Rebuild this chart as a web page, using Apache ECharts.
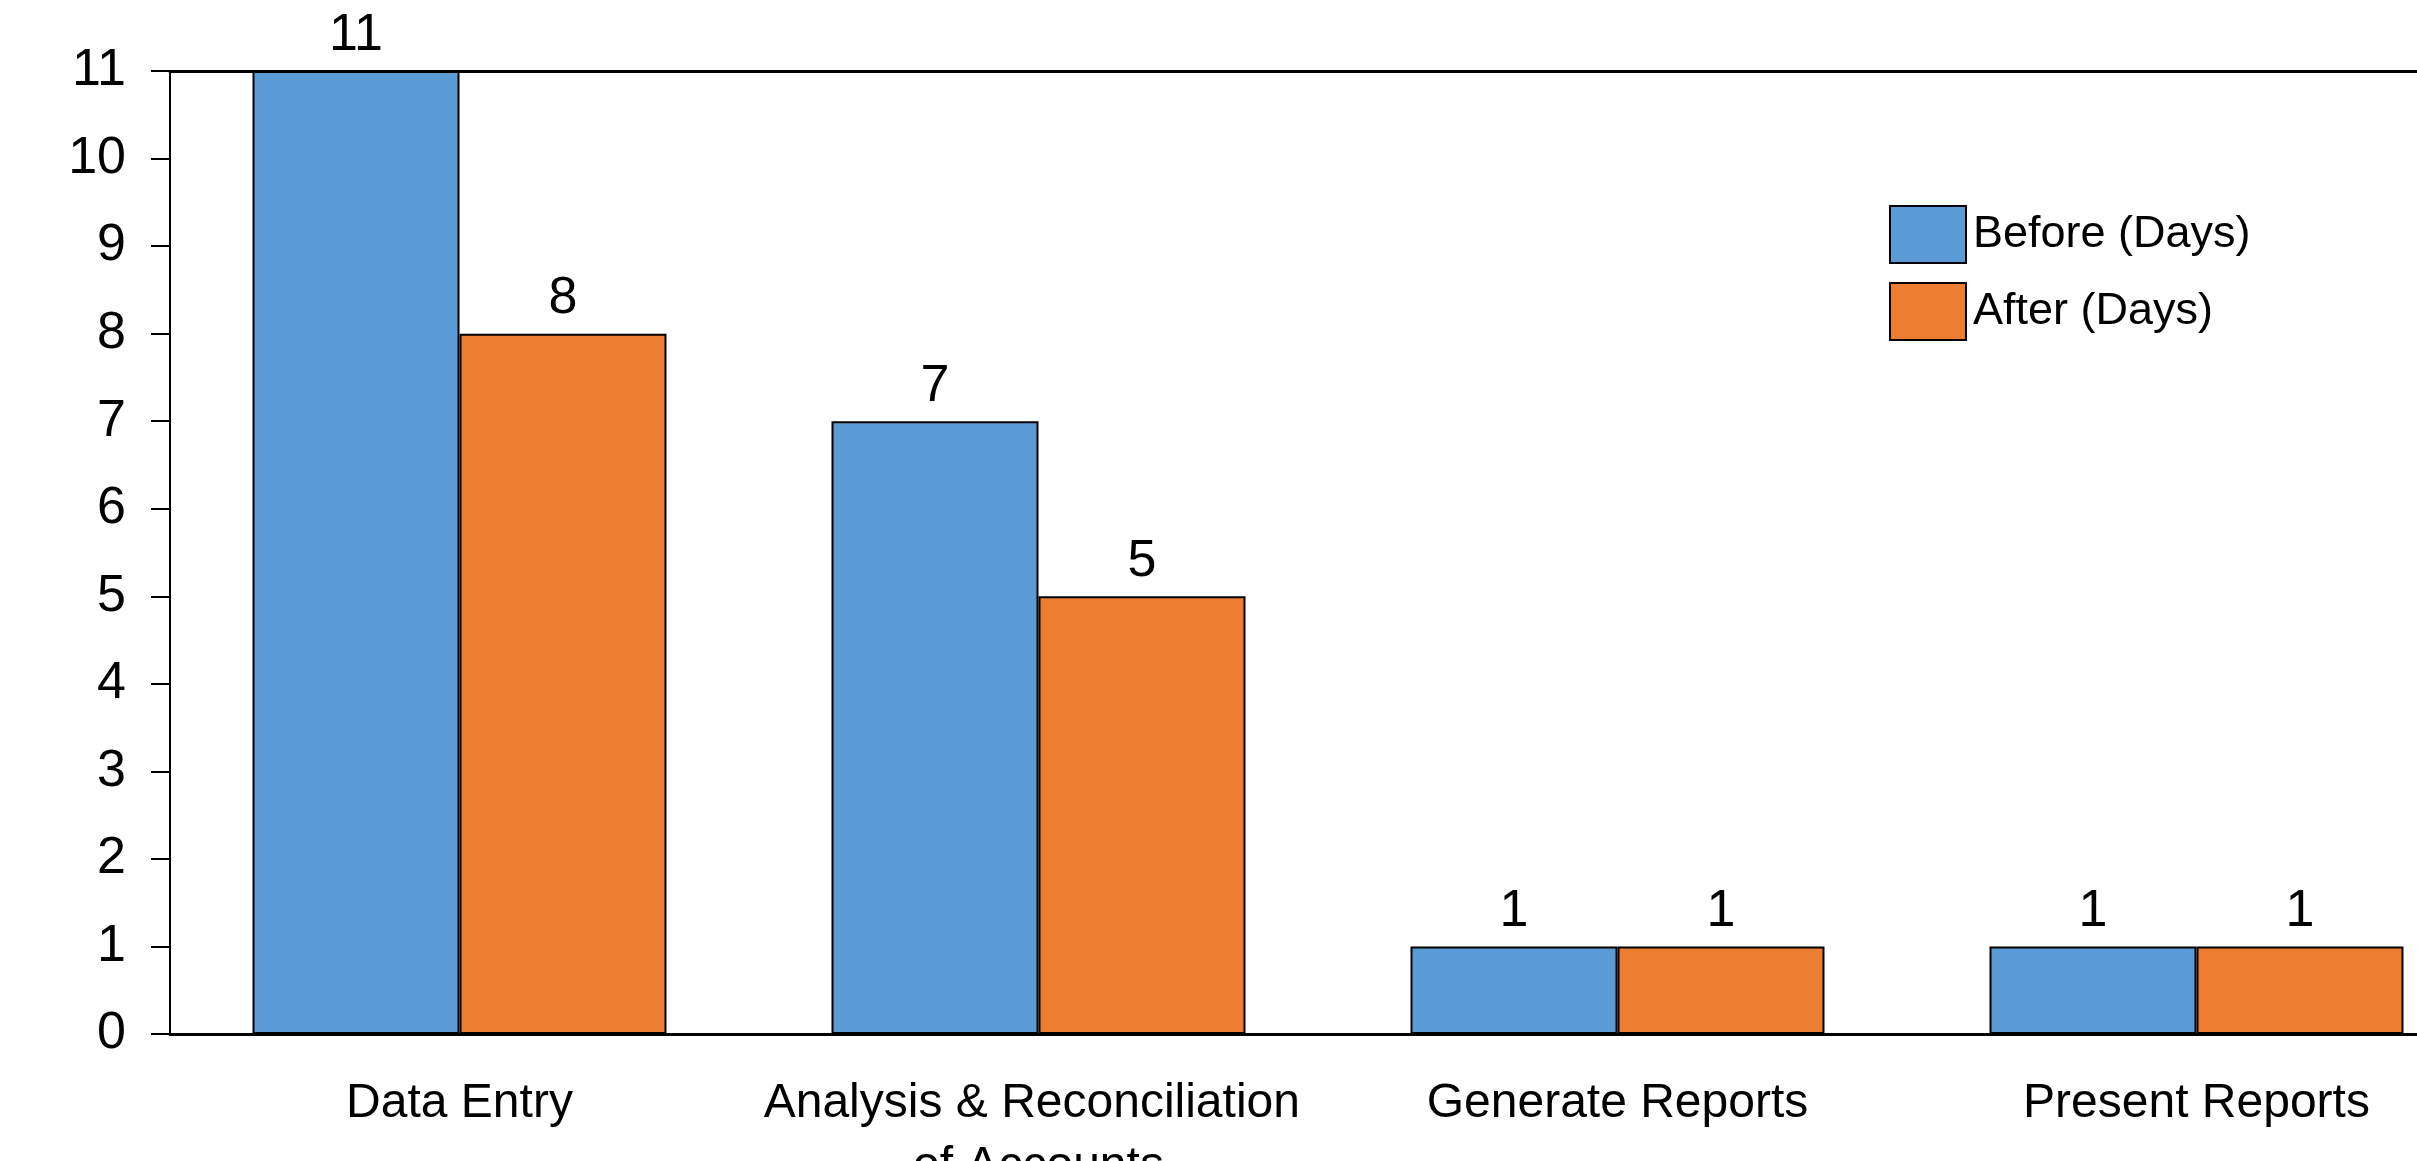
<!DOCTYPE html>
<html>
<head>
<meta charset="utf-8">
<script src="https://cdn.jsdelivr.net/npm/echarts@6/dist/echarts.min.js"></script>
<style>
html,body{margin:0;padding:0;background:#fff;}
#chart{width:2417px;height:1161px;}
</style>
</head>
<body>
<div id="chart"></div>
<script>
const categories = ["Data Entry", "Analysis & Reconciliation of Accounts", "Generate Reports", "Present Reports"];
const beforeDays = [11, 7, 1, 1];
const afterDays = [8, 5, 1, 1];
const seriesNames = ["Before (Days)", "After (Days)"];

const FONT = "'Liberation Sans Narrow', 'Arial Narrow', 'Liberation Sans', Arial, sans-serif";
const chart = echarts.init(document.getElementById('chart'), null, {renderer: 'canvas'});

const labelStyle = {show: true, position: 'top', distance: 9, color: '#000', fontSize: 52, fontFamily: FONT};
const itemBorder = {borderColor: '#000', borderWidth: 2};

chart.setOption({
  animation: false,
  backgroundColor: '#fff',
  grid: {left: 170, top: 71, bottom: 127, width: 2316, containLabel: false, outerBoundsMode: 'none'},
  legend: {
    left: 1884, top: 200, orient: 'vertical',
    icon: 'rect', itemWidth: 76, itemHeight: 57, itemGap: 18,
    textStyle: {fontSize: 45, fontFamily: FONT, color: '#000', padding: [0, 0, 0, 2]},
    data: seriesNames
  },
  xAxis: [{
    type: 'category', data: categories, position: 'bottom',
    axisLine: {show: true, lineStyle: {color: '#000', width: 3}},
    axisTick: {show: false},
    axisLabel: {color: '#000', fontSize: 48, fontFamily: FONT, margin: 38, width: 560, overflow: 'break', lineHeight: 63, interval: 0}
  }, {
    type: 'category', data: categories, position: 'top',
    axisLine: {show: true, lineStyle: {color: '#000', width: 3}},
    axisTick: {show: false}, axisLabel: {show: false}
  }],
  yAxis: {
    type: 'value', min: 0, max: 11, interval: 1,
    axisLine: {show: true, lineStyle: {color: '#000', width: 2}},
    axisTick: {show: true, length: 19, lineStyle: {color: '#000', width: 2}},
    splitLine: {show: false},
    axisLabel: {color: '#000', fontSize: 52, fontFamily: FONT, margin: 44}
  },
  series: [{
    name: seriesNames[0], type: 'bar', data: beforeDays,
    barGap: '0%', barCategoryGap: '28.5%',
    itemStyle: Object.assign({color: '#5B9BD5'}, itemBorder),
    label: labelStyle
  }, {
    name: seriesNames[1], type: 'bar', data: afterDays,
    barGap: '0%', barCategoryGap: '28.5%',
    itemStyle: Object.assign({color: '#ED7D31'}, itemBorder),
    label: labelStyle
  }]
});
</script>
</body>
</html>
